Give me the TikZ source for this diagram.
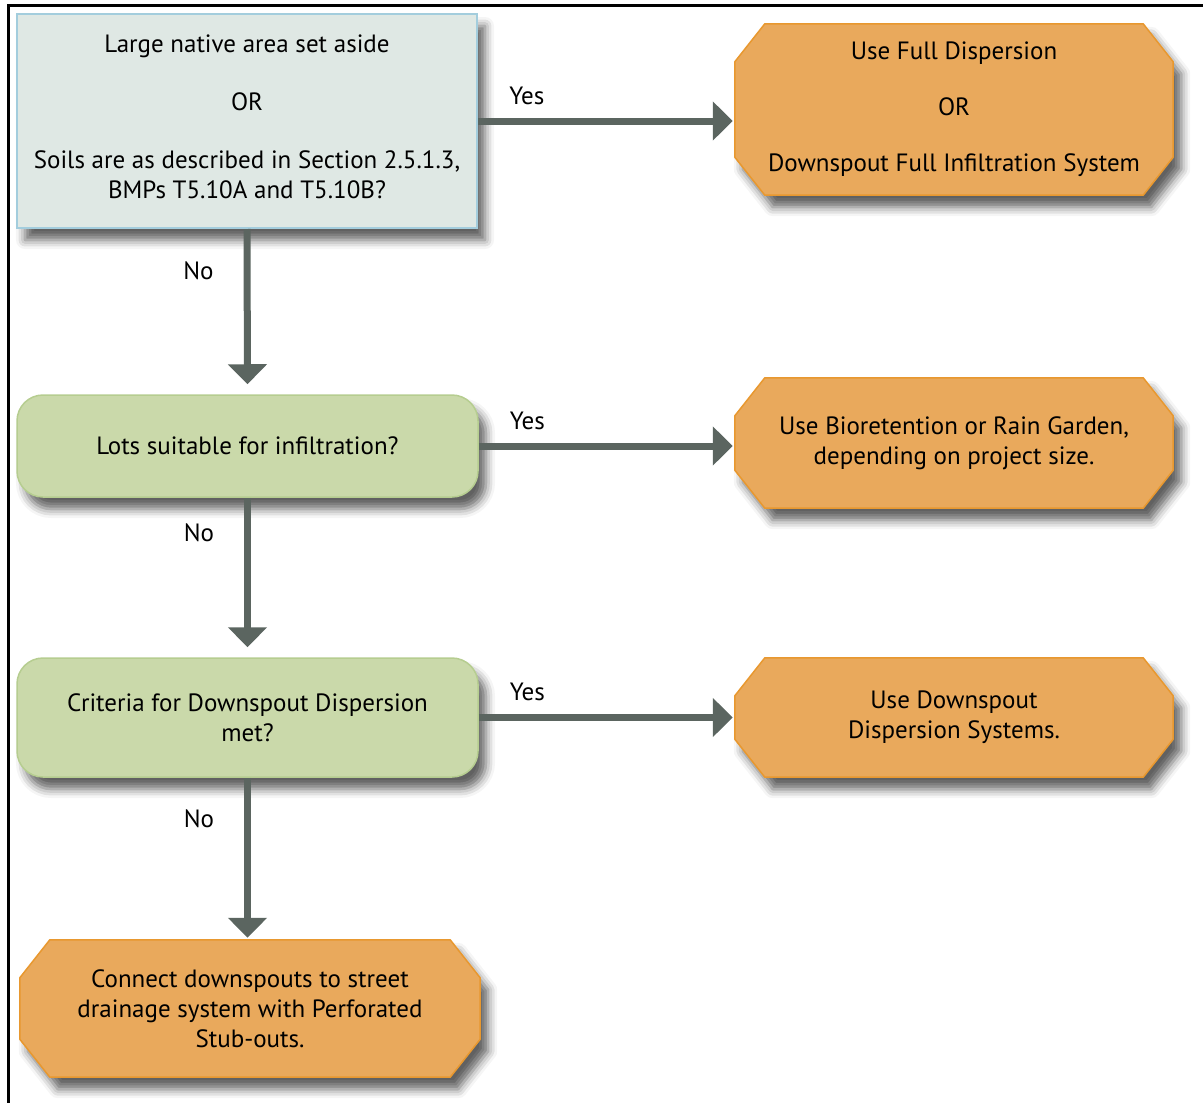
\documentclass[tikz,border=0pt]{standalone}
\usepackage{fontspec}
\setmainfont{PT Sans}
\usetikzlibrary{arrows.meta,backgrounds,shadows.blur}

\definecolor{askfill}{HTML}{DFE8E4}
\definecolor{askline}{HTML}{A3CDDD}
\definecolor{leaffill}{HTML}{CAD9AA}
\definecolor{leafline}{HTML}{B6CD90}
\definecolor{usefill}{HTML}{E9A95C}
\definecolor{useline}{HTML}{E8982F}
\definecolor{flow}{HTML}{5B6560}

\tikzset{
  boxshade/.style={blur shadow={shadow xshift=8pt,shadow yshift=-12pt,
      shadow blur radius=9pt,shadow opacity=62}},
  askbox/.style={rectangle,draw=askline,fill=askfill,line width=2pt,boxshade,
      align=center,inner sep=0pt},
  leafbox/.style={rectangle,rounded corners=26pt,draw=leafline,fill=leaffill,
      line width=1.5pt,boxshade,align=center,inner sep=0pt},
  usebox/.style={rectangle,align=center,inner sep=0pt},
  usecut/.style={draw=useline,fill=usefill,line width=1.5pt,boxshade},
  flowarrow/.style={draw=flow,line width=7pt,
      -{Triangle[length=20pt,width=38pt]}},
  answer/.style={inner sep=0pt}
}

\begin{document}
\begin{tikzpicture}[x=1pt,y=-1pt,font=\fontsize{25}{30}\selectfont]
  \useasboundingbox (0,0) rectangle (1203,1103);
  \draw[line width=3pt] (8,1103) -- (8,5) -- (1203,5);

  % questions
  \node[askbox,minimum width=460pt,minimum height=214pt] (ask1) at (247,121)
    {Large native area set aside\\[28pt] OR\\[28pt]
     Soils are as described in Section 2.5.1.3,\\ BMPs T5.10A and T5.10B?\\[-22pt]};
  \node[leafbox,minimum width=461pt,minimum height=102pt] (ask2) at (247.5,446)
    {Lots suitable for infiltration?};
  \node[leafbox,minimum width=461pt,minimum height=119pt] (ask3) at (247.5,717.5)
    {Criteria for Downspout Dispersion\\ met?};

  % outcomes
  \node[usebox,minimum width=438pt,minimum height=171pt] (use1) at (954,109.5)
    {Use Full Dispersion\\[26pt] OR\\[26pt] Downspout Full Infiltration System};
  \node[usebox,minimum width=438pt,minimum height=130pt] (use2) at (954,443)
    {Use Bioretention or Rain Garden,\\ depending on project size.};
  \node[usebox,minimum width=438pt,minimum height=119pt] (use3) at (954,717.5)
    {Use Downspout\\ Dispersion Systems.};
  \node[usebox,minimum width=460pt,minimum height=137pt] (use4) at (250,1008.5)
    {Connect downspouts to street\\ drainage system with Perforated\\ Stub-outs.};

  % cut corners of the outcome boxes
  \begin{scope}[on background layer]
    \foreach \n in {use1,use2,use3,use4}
      \path[usecut] ([xshift=30pt]\n.north west) -- ([xshift=-30pt]\n.north east)
        -- ([yshift=-38pt]\n.north east) -- ([yshift=38pt]\n.south east)
        -- ([xshift=-30pt]\n.south east) -- ([xshift=30pt]\n.south west)
        -- ([yshift=38pt]\n.south west) -- ([yshift=-38pt]\n.north west) -- cycle;
  \end{scope}

  \draw[flowarrow,shorten >=2pt] (ask1.east) -- (ask1.east -| use1.west)
    node[answer,pos=0.19,above=13pt] {Yes};
  \draw[flowarrow,shorten >=2pt] (ask2.east) -- (ask2.east -| use2.west)
    node[answer,pos=0.19,above=13pt] {Yes};
  \draw[flowarrow,shorten >=2pt] (ask3.east) -- (ask3.east -| use3.west)
    node[answer,pos=0.19,above=13pt] {Yes};

  \draw[flowarrow,shorten >=10pt] (ask1.south) -- (ask2.north)
    node[answer,pos=0.25,left=30pt] {No};
  \draw[flowarrow,shorten >=10pt] (ask2.south) -- (ask3.north)
    node[answer,pos=0.22,left=30pt] {No};
  \draw[flowarrow,shorten >=2pt] (ask3.south) -- (ask3.south |- use4.north)
    node[answer,pos=0.25,left=30pt] {No};
\end{tikzpicture}
\end{document}
